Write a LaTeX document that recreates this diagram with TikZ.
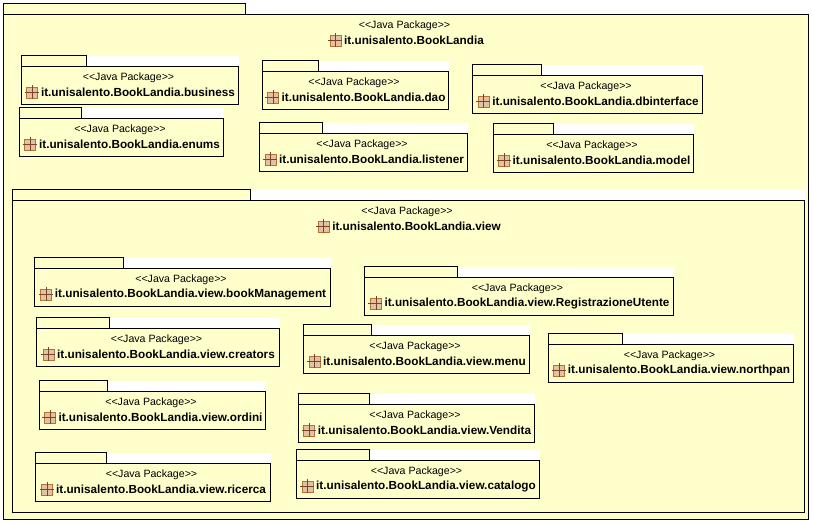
\documentclass[tikz,border=0pt]{standalone}
\usepackage{fontspec}
\setmainfont{Liberation Sans}
\usetikzlibrary{positioning}
\definecolor{pkgfill}{HTML}{FFFFCC}
\definecolor{iconfill}{HTML}{E2C2A4}
\definecolor{iconline}{HTML}{B87038}
\definecolor{iconcross}{HTML}{7A4526}
\tikzset{
    pkgline/.style={draw=black, line width=.9pt, fill=pkgfill},
    stereo/.style={inner sep=0pt, font=\fontsize{10.6}{12}\selectfont},
    pkgname/.style={inner sep=0pt, font=\fontsize{11.75}{13}\selectfont\bfseries},
    pkgicon/.style={draw=iconline, fill=iconfill, line width=.9pt, minimum size=11pt, inner sep=0pt}
}
% id, left, top of body, right, bottom of body, right of tab, label
\newcommand{\pkgbox}[7]{
    \fill[white](#2, #3 - 11) rectangle (#4, #3);
    \draw[pkgline](#2, #3 - 11) rectangle (#6, #3);
    \draw[pkgline](#2, #3) rectangle (#4, #5);
    \node[stereo] (#1s) at ({(#2 + #4) / 2 - 1.5}, #3 + 11) {<{}<Java Package>{}>};
    \node[pkgname] (#1n) at ({(#2 + #4) / 2 + 8}, #3 + 26) {#7};
    \node[pkgicon, left=2.5pt of #1n] (#1i) {};
    \draw[iconcross, line width=.6pt](#1i.north) ++(0, -1.5) -- ++(0, 14);
    \draw[iconcross, line width=.6pt](#1i.west) ++(-1.5, 0) -- ++(14, 0);
}
\begin{document}
\begin{tikzpicture}[x=1pt, y=-1pt]
    \useasboundingbox (0, 0) rectangle (813, 523);

    %%outer package
    \pkgbox{main}{3.5}{14.5}{808.5}{519.5}{245.5}{it.unisalento.BookLandia}

    %%first row
    \pkgbox{business}{21.5}{66.5}{238.5}{104.5}{86.5}{it.unisalento.BookLandia.business}
    \pkgbox{dao}{262.5}{71.5}{448.5}{109.5}{318.5}{it.unisalento.BookLandia.dao}
    \pkgbox{dbinterface}{472.5}{75.5}{702.5}{113.5}{541.5}{it.unisalento.BookLandia.dbinterface}

    %%second row
    \pkgbox{enums}{19.5}{118.5}{223.5}{156.5}{81.5}{it.unisalento.BookLandia.enums}
    \pkgbox{listener}{259.5}{133.5}{467.5}{171.5}{322.5}{it.unisalento.BookLandia.listener}
    \pkgbox{model}{493.5}{134.5}{693.5}{172.5}{553.5}{it.unisalento.BookLandia.model}

    %%view package
    \pkgbox{view}{12.5}{200.5}{804.5}{512.5}{250.5}{it.unisalento.BookLandia.view}

    \pkgbox{bookmgmt}{34.5}{268.5}{330.5}{306.5}{123.5}{it.unisalento.BookLandia.view.bookManagement}
    \pkgbox{registrazione}{364.5}{277.5}{673.5}{315.5}{457.5}{it.unisalento.BookLandia.view.RegistrazioneUtente}
    \pkgbox{creators}{36.5}{328.5}{279.5}{366.5}{109.5}{it.unisalento.BookLandia.view.creators}
    \pkgbox{menu}{303.5}{335.5}{529.5}{373.5}{371.5}{it.unisalento.BookLandia.view.menu}
    \pkgbox{northpan}{548.5}{344.5}{793.5}{382.5}{622.5}{it.unisalento.BookLandia.view.northpan}
    \pkgbox{ordini}{39.5}{391.5}{265.5}{429.5}{107.5}{it.unisalento.BookLandia.view.ordini}
    \pkgbox{vendita}{298.5}{404.5}{534.5}{442.5}{369.5}{it.unisalento.BookLandia.view.Vendita}
    \pkgbox{ricerca}{35.5}{463.5}{270.5}{501.5}{106.5}{it.unisalento.BookLandia.view.ricerca}
    \pkgbox{catalogo}{296.5}{460.5}{539.5}{498.5}{369.5}{it.unisalento.BookLandia.view.catalogo}

\end{tikzpicture}
\end{document}
